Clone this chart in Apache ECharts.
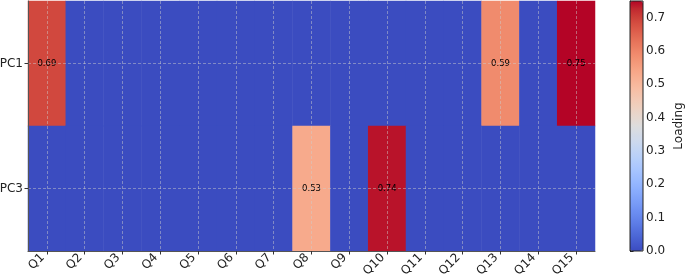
<!DOCTYPE html>
<html><head><meta charset="utf-8">
<script src="https://cdn.jsdelivr.net/npm/echarts@6/dist/echarts.min.js"></script>
<style>html,body{margin:0;padding:0;background:#fff}#c{width:685px;height:279px}</style>
</head><body><div id="c"></div>
<script>
const questions = ['Q1','Q2','Q3','Q4','Q5','Q6','Q7','Q8','Q9','Q10','Q11','Q12','Q13','Q14','Q15'];
const components = ['PC1','PC3'];
const pc1Values = [0.69,0,0,0,0,0,0,0,0,0,0,0,0.59,0,0.75];
const pc3Values = [0,0,0,0,0,0,0,0.53,0,0.74,0,0,0,0,0];
const colorbarTicks = [0.0,0.1,0.2,0.3,0.4,0.5,0.6,0.7];
const coolwarm = ['#3b4cc0','#445acc','#4d68d7','#5775e1','#6282ea','#6c8ef1','#779af7','#82a5fb','#8db0fe','#98b9ff','#a3c2ff','#aec9fd','#b8d0f9','#c2d5f4','#ccd9ee','#d5dbe6','#dddddd','#e5d8d1','#ecd3c5','#f1ccb9','#f5c4ad','#f7bba0','#f7b194','#f7a687','#f49a7b','#f18d6f','#ec7f63','#e57058','#de604d','#d55042','#cb3e38','#c0282f','#b40426'];

const rows = [pc1Values, pc3Values];
const data = [];
rows.forEach((r, yi) => r.forEach((v, xi) => data.push([xi, yi, v])));

const font = 'DejaVu Sans';
const chart = echarts.init(document.getElementById('c'));
chart.setOption({
  animation: false,
  textStyle: {fontFamily: font},
  grid: [
    {left: 28, top: 1, width: 567, height: 250, outerBoundsMode: 'none', containLabel: false},
    {left: 630, top: 1, width: 13, height: 250, outerBoundsMode: 'none', containLabel: false,
     show: true, borderColor: '#222', borderWidth: 1, backgroundColor: 'transparent', z: 10}
  ],
  xAxis: [
    {type: 'category', gridIndex: 0, data: questions, z: 5,
     axisLine: {show: true, lineStyle: {color: '#555', width: 1}},
     axisTick: {show: true, alignWithLabel: true, interval: 0, length: 3.5, lineStyle: {color: '#333'}},
     axisLabel: {interval: 0, rotate: 45, fontSize: 12, color: '#222', fontFamily: font, margin: 9,
       verticalAlign: 'bottom'},
     splitLine: {show: true, interval: 0, alignWithLabel: true,
       lineStyle: {color: 'rgba(205,205,205,0.6)', width: 0.8, type: [3, 2]}}},
    {type: 'value', gridIndex: 1, show: false, min: 0, max: 1}
  ],
  yAxis: [
    {type: 'category', gridIndex: 0, data: components, inverse: true, z: 5,
     axisLine: {show: true, lineStyle: {color: '#555', width: 1}},
     axisTick: {show: true, alignWithLabel: true, interval: 0, length: 3.5, lineStyle: {color: '#333'}},
     axisLabel: {fontSize: 12, color: '#222', fontFamily: font, margin: 5},
     splitLine: {show: true, interval: 0, alignWithLabel: true,
       lineStyle: {color: 'rgba(205,205,205,0.6)', width: 0.8, type: [3, 2]}}},
    {type: 'value', gridIndex: 1, position: 'right', min: 0, max: 0.75, interval: 0.1,
     axisLine: {show: true, lineStyle: {color: '#222', width: 1}},
     axisTick: {show: true, length: 3.5, lineStyle: {color: '#222'}},
     axisLabel: {fontSize: 12, color: '#222', fontFamily: font, margin: 3,
       formatter: v => colorbarTicks.some(t => Math.abs(t - v) < 1e-6) ? v.toFixed(1) : ''},
     splitLine: {show: false},
     name: 'Loading', nameLocation: 'middle', nameRotate: 90, nameGap: 30,
     nameTextStyle: {fontSize: 12, color: '#222', fontFamily: font}}
  ],
  visualMap: {
    type: 'continuous', min: 0, max: 0.75, seriesIndex: 0, calculable: false,
    orient: 'vertical', left: 630, top: 1, padding: 0, itemWidth: 13, itemHeight: 250,
    text: null, showLabel: false, hoverLink: false,
    inRange: {color: coolwarm}
  },
  series: [
    {type: 'heatmap', xAxisIndex: 0, yAxisIndex: 0, data: data,
     label: {show: true, fontSize: 8.5, color: '#000', fontFamily: font,
       formatter: p => p.value[2] > 0 ? p.value[2].toFixed(2) : ''},
     emphasis: {disabled: true}},
    {type: 'line', xAxisIndex: 1, yAxisIndex: 1, data: [], silent: true}
  ]
});
</script></body></html>
